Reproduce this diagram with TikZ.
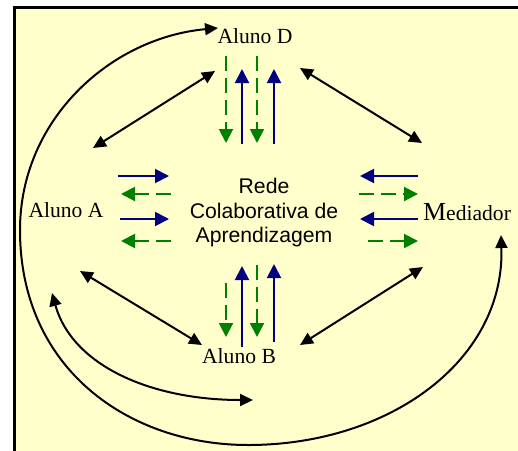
\documentclass[tikz,border=0pt]{standalone}
\usepackage{fontspec}
\setmainfont{Liberation Serif}
\setsansfont{Liberation Sans}
\usetikzlibrary{arrows.meta}
\definecolor{paper}{HTML}{FFFFCC}
\definecolor{navy}{HTML}{000080}
\definecolor{leafgreen}{HTML}{008000}
\tikzset{
  member/.style={font=\fontsize{10.8}{12}\selectfont, inner sep=0pt},
  hub/.style={font=\sffamily\fontsize{10.6}{12.25}\selectfont, align=center, inner sep=0pt},
  link/.style={line width=1pt, {Triangle[length=6.5pt,width=6pt]}-{Triangle[length=6.5pt,width=6pt]}},
  sendflow/.style={navy, line width=1pt, -{Triangle[length=7pt,width=7pt]}},
  backflow/.style={leafgreen, line width=1pt, dash pattern=on 7.5pt off 3.5pt, -{Triangle[length=7pt,width=7pt]}}
}
\begin{document}
\begin{tikzpicture}[x=0.5pt,y=-0.5pt]
  \useasboundingbox (0,0) rectangle (518,450);
  \clip (0,0) rectangle (518,450);
  % sheet and its frame
  \fill[paper] (14,7) rectangle (540,470);
  \draw[line width=1.5pt] (14,7) rectangle (540,470);

  % participants and the network
  \node[member] (alunoD) at (255,36) {Aluno D};
  \node[member] (alunoA) at (66,210) {Aluno A};
  \node[member] (alunoB) at (239,356) {Aluno B};
  \node[member, anchor=base] (mediador) at (467,220) {{\fontsize{13}{14}\selectfont M}ediador};
  \node[hub] (rede) at (264,213) {Rede\\Colaborativa de\\Aprendizagem};

  % end points of the exchange arrows
  \coordinate (dA) at (215,71);  \coordinate (aD) at (93,148);
  \coordinate (dM) at (300,68);  \coordinate (mD) at (422,143);
  \coordinate (aB) at (80,271);  \coordinate (bA) at (202,345);
  \coordinate (bM) at (300,345); \coordinate (mB) at (423,267);

  \draw[link] (dA) -- (aD);
  \draw[link] (dM) -- (mD);
  \draw[link] (aB) -- (bA);
  \draw[link] (bM) -- (mB);

  % outer loop: Aluno D round to the Mediador
  \coordinate (loopD) at (218,28);
  \coordinate (loopM) at (501,235);
  \draw[link] (loopD) .. controls (110,38) and (20,120) .. (20,230)
              .. controls (20,370) and (130,445) .. (248,445)
              .. controls (390,445) and (505,360) .. (loopM);

  % inner loop: Aluno A round below Aluno B
  \coordinate (loopA) at (52,293);
  \coordinate (loopB) at (253,400);
  \draw[link] (loopA) .. controls (72,365) and (150,400) .. (loopB);

  % flows between Aluno D and the network
  \coordinate (d1) at (226,56);  \coordinate (d1e) at (226,143);
  \coordinate (d2) at (242,144); \coordinate (d2e) at (242,69);
  \coordinate (d3) at (257,56);  \coordinate (d3e) at (257,143);
  \coordinate (d4) at (274,144); \coordinate (d4e) at (274,69);
  \draw[backflow] (d1) -- (d1e);
  \draw[sendflow] (d2) -- (d2e);
  \draw[backflow] (d3) -- (d3e);
  \draw[sendflow] (d4) -- (d4e);

  % flows between Aluno B and the network
  \coordinate (b1) at (226,283); \coordinate (b1e) at (226,337);
  \coordinate (b2) at (242,347); \coordinate (b2e) at (242,266);
  \coordinate (b3) at (257,265); \coordinate (b3e) at (257,337);
  \coordinate (b4) at (274,342); \coordinate (b4e) at (274,264);
  \draw[backflow] (b1) -- (b1e);
  \draw[sendflow] (b2) -- (b2e);
  \draw[backflow] (b3) -- (b3e);
  \draw[sendflow] (b4) -- (b4e);

  % flows between Aluno A and the network
  \coordinate (a1) at (118,176); \coordinate (a1e) at (169,176);
  \coordinate (a2) at (171,194); \coordinate (a2e) at (121,194);
  \coordinate (a3) at (120,219); \coordinate (a3e) at (169,219);
  \coordinate (a4) at (171,241); \coordinate (a4e) at (121,241);
  \draw[sendflow] (a1) -- (a1e);
  \draw[backflow] (a2) -- (a2e);
  \draw[sendflow] (a3) -- (a3e);
  \draw[backflow] (a4) -- (a4e);

  % flows between the Mediador and the network
  \coordinate (m1) at (418,176); \coordinate (m1e) at (360,176);
  \coordinate (m2) at (359,194); \coordinate (m2e) at (418,194);
  \coordinate (m3) at (418,219); \coordinate (m3e) at (360,219);
  \coordinate (m4) at (368,241); \coordinate (m4e) at (418,241);
  \draw[sendflow] (m1) -- (m1e);
  \draw[backflow] (m2) -- (m2e);
  \draw[sendflow] (m3) -- (m3e);
  \draw[backflow] (m4) -- (m4e);
\end{tikzpicture}
\end{document}
